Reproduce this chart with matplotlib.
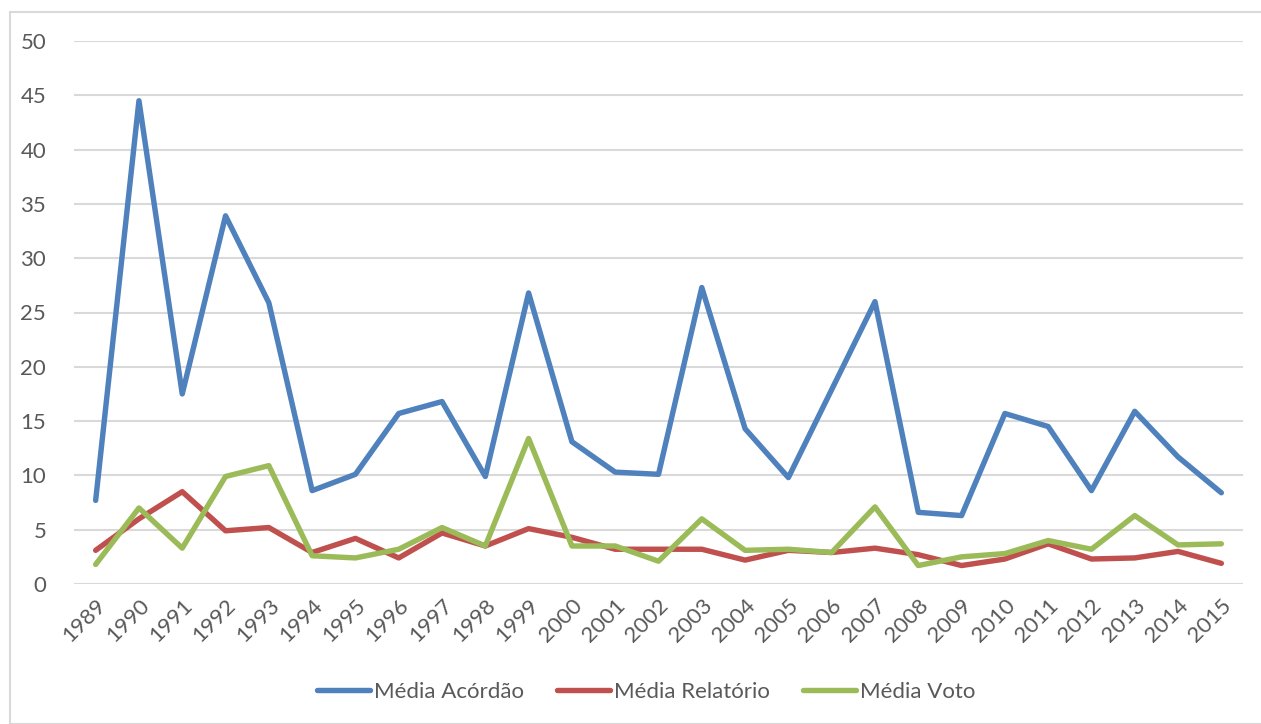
import matplotlib
matplotlib.use("Agg")
import matplotlib.pyplot as plt
from matplotlib.patches import Rectangle

plt.rcParams["font.family"] = ["Lato", "DejaVu Sans"]

# ===== dados =====
anos = list(range(1989, 2016))
media_acordao = [7.7, 44.5, 17.5, 33.9, 25.9, 8.6, 10.1, 15.7, 16.8, 9.9,
                 26.8, 13.1, 10.3, 10.1, 27.3, 14.3, 9.8, 17.9, 26.0, 6.6,
                 6.3, 15.7, 14.5, 8.6, 15.9, 11.7, 8.4]
media_relatorio = [3.1, 6.0, 8.5, 4.9, 5.2, 2.9, 4.2, 2.4, 4.7, 3.5,
                   5.1, 4.3, 3.2, 3.2, 3.2, 2.2, 3.1, 2.9, 3.3, 2.7,
                   1.7, 2.3, 3.7, 2.3, 2.4, 3.0, 1.9]
media_voto = [1.8, 7.0, 3.3, 9.9, 10.9, 2.6, 2.4, 3.2, 5.2, 3.5,
              13.4, 3.5, 3.5, 2.1, 6.0, 3.1, 3.2, 2.9, 7.1, 1.7,
              2.5, 2.8, 4.0, 3.2, 6.3, 3.6, 3.7]

W, H = 1261, 724
fig = plt.figure(figsize=(W / 100, H / 100), dpi=100)
fig.patch.set_facecolor("white")

# moldura do gráfico
fig.patches.append(Rectangle((10 / W, 0), 1.5, 1 - 12 / H, transform=fig.transFigure,
                             fill=False, edgecolor="#D9D9D9", linewidth=1.5))

ax = fig.add_axes([74 / W, 1 - 584 / H, (1243 - 74) / W, (584 - 41) / H])

lw = 3.9
ax.plot(anos, media_acordao, color="#4F81BD", lw=lw, label="Média Acórdão",
        solid_capstyle="round", solid_joinstyle="round")
ax.plot(anos, media_relatorio, color="#C0504D", lw=lw, label="Média Relatório",
        solid_capstyle="round", solid_joinstyle="round")
ax.plot(anos, media_voto, color="#9BBB59", lw=lw, label="Média Voto",
        solid_capstyle="round", solid_joinstyle="round")

ax.set_xlim(1988.5, 2015.5)
ax.set_ylim(0, 50)
ax.set_yticks(range(0, 51, 5))
ax.set_xticks(anos)
ax.set_xticklabels([str(a) for a in anos], rotation=45, ha="right",
                   rotation_mode="anchor")
ax.tick_params(axis="both", length=0, labelsize=16, colors="#595959")
ax.tick_params(axis="y", pad=20)
ax.tick_params(axis="x", pad=8)
ax.grid(axis="y", color="#D9D9D9", linewidth=1.5)
ax.set_axisbelow(True)
for s in ax.spines.values():
    s.set_visible(False)

leg = fig.legend(loc="center", bbox_to_anchor=(646 / W, 1 - 692 / H), ncol=3,
                 frameon=False, fontsize=16, handlelength=2.4, handletextpad=0.15,
                 columnspacing=1.5)
for t in leg.get_texts():
    t.set_color("#595959")

plt.savefig("out.png", dpi=100)
plt.close()
